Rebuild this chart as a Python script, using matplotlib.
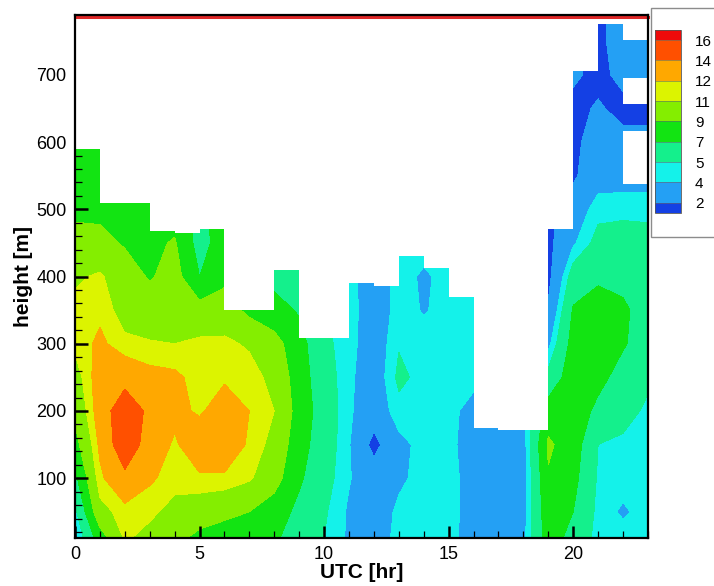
import matplotlib

matplotlib.use("Agg")
import matplotlib.pyplot as plt
import numpy as np
from matplotlib.colors import BoundaryNorm, ListedColormap
from matplotlib.patches import Rectangle
from matplotlib.cm import ScalarMappable
from matplotlib.ticker import MultipleLocator

plt.rcParams["font.family"] = ["Liberation Sans", "DejaVu Sans"]

# wind speed field: one list per hour (0..23), values at `heights`
hours = list(range(24))
heights = [11, 50, 100, 150, 200, 250, 300, 350, 400, 450, 500, 550, 600, 650, 700, 750, 790]
wind_speed = [
    [3.5, 4.6, 6.5, 8.3, 9.5, 10.3, 11.3, 11.3, 10.8, 9.8, 8.5, 8.0, 8.0, 8.0, 8.0, 8.0, 8.0],
    [8.0, 10.5, 11.7, 12.3, 12.8, 12.8, 12.3, 11.7, 11.2, 9.6, 8.5, 8.0, 8.0, 8.0, 8.0, 8.0, 8.0],
    [11.2, 11.5, 13.5, 15.5, 15.5, 13.2, 11.3, 10.4, 10.0, 8.8, 8.0, 8.0, 8.0, 8.0, 8.0, 8.0, 8.0],
    [10.5, 11.3, 12.2, 13.0, 13.5, 12.5, 11.1, 10.2, 8.8, 8.5, 8.0, 8.0, 8.0, 8.0, 8.0, 8.0, 8.0],
    [9.5, 10.5, 11.5, 11.8, 12.4, 12.3, 11.0, 10.2, 9.8, 9.2, 8.0, 8.0, 8.0, 8.0, 8.0, 8.0, 8.0],
    [8.5, 10.0, 11.8, 13.0, 11.8, 11.5, 11.3, 9.8, 7.0, 6.2, 6.5, 7.5, 8.0, 8.0, 8.0, 8.0, 8.0],
    [8.0, 9.5, 11.8, 13.0, 12.8, 11.8, 11.3, 10.0, 8.5, 8.0, 8.0, 8.0, 8.0, 8.0, 8.0, 8.0, 8.0],
    [8.0, 9.0, 11.2, 11.8, 12.0, 11.6, 10.8, 8.5, 7.5, 7.5, 7.5, 7.5, 7.5, 7.5, 7.5, 7.5, 7.5],
    [7.3, 8.0, 9.8, 10.5, 11.0, 10.5, 9.7, 7.8, 6.3, 6.0, 6.0, 6.0, 6.0, 6.0, 6.0, 6.0, 6.0],
    [6.0, 6.5, 7.3, 7.8, 8.2, 8.0, 7.8, 6.8, 6.0, 6.0, 6.0, 6.0, 6.0, 6.0, 6.0, 6.0, 6.0],
    [5.0, 5.2, 5.6, 5.9, 6.0, 5.7, 5.3, 5.0, 5.0, 5.0, 5.0, 5.0, 5.0, 5.0, 5.0, 5.0, 5.0],
    [3.8, 3.8, 4.1, 4.1, 4.2, 4.3, 4.5, 4.6, 4.5, 4.0, 4.0, 4.0, 4.0, 4.0, 4.0, 4.0, 4.0],
    [3.0, 3.0, 3.0, 1.4, 3.0, 3.0, 3.0, 3.0, 3.0, 3.0, 3.0, 3.0, 3.0, 3.0, 3.0, 3.0, 3.0],
    [4.5, 4.3, 3.7, 3.6, 4.6, 5.3, 4.9, 4.5, 4.5, 4.5, 4.5, 4.5, 4.5, 4.5, 4.5, 4.5, 4.5],
    [4.6, 4.6, 4.5, 4.4, 4.5, 4.6, 4.5, 3.9, 3.8, 4.5, 4.5, 4.5, 4.5, 4.5, 4.5, 4.5, 4.5],
    [4.3, 4.4, 4.3, 4.2, 4.3, 4.1, 4.5, 4.4, 4.4, 4.5, 4.5, 4.5, 4.5, 4.5, 4.5, 4.5, 4.5],
    [3.5, 3.5, 3.6, 3.6, 3.6, 4.3, 4.4, 4.3, 4.3, 4.3, 4.3, 4.3, 4.3, 4.3, 4.3, 4.3, 4.3],
    [3.2, 3.1, 3.0, 3.0, 3.0, 3.0, 3.0, 3.0, 3.0, 3.0, 3.0, 3.0, 3.0, 3.0, 3.0, 3.0, 3.0],
    [3.6, 3.4, 3.2, 3.4, 3.6, 3.5, 3.0, 3.0, 3.0, 3.0, 3.0, 3.0, 3.0, 3.0, 3.0, 3.0, 3.0],
    [8.0, 8.3, 8.8, 9.3, 8.0, 5.5, 3.6, 2.2, 1.5, 1.5, 1.5, 1.5, 1.5, 1.5, 1.5, 1.5, 1.5],
    [6.3, 7.0, 7.6, 8.0, 8.2, 8.2, 7.8, 7.2, 5.8, 3.8, 3.0, 1.7, 1.5, 1.5, 2.3, 2.5, 2.5],
    [4.5, 4.6, 4.8, 5.0, 6.5, 7.6, 8.3, 8.3, 6.5, 5.5, 4.6, 3.3, 3.0, 2.2, 1.5, 1.5, 1.5],
    [4.5, 3.8, 4.5, 4.8, 5.4, 6.2, 7.2, 7.3, 6.5, 5.8, 4.6, 3.4, 2.5, 1.5, 2.5, 3.0, 3.0],
    [4.5, 4.5, 4.6, 4.7, 4.8, 5.2, 6.0, 6.2, 6.2, 5.6, 4.6, 3.4, 2.5, 1.5, 3.0, 3.0, 3.0],
]

# highest valid range gate for each hourly column (start hour -> top height)
col_start = list(range(23))
col_top = [590, 510, 510, 468, 465, 470, 350, 350, 410, 308, 308, 390, 386,
           430, 413, 370, 174, 172, 172, 470, 705, 775, 752]

# missing data inside the last column
gap_hour = [22, 22]
gap_lo = [537, 656]
gap_hi = [616, 696]

legend_ticks = [2, 4, 5, 7, 9, 11, 12, 14, 16]
colors = ["#1440e4", "#24a0f4", "#14f2ea", "#14f08c", "#12e412",
          "#84ee00", "#dcf400", "#ffa800", "#ff5000", "#ee0a0a"]

fig = plt.figure(figsize=(7.14, 5.86), dpi=100)
ax = fig.add_axes([0.105, 0.0819, 0.8025, 0.8925])

z = np.array(wind_speed).T
ax.contourf(hours, heights, z, levels=[0] + legend_ticks + [20], colors=colors)

# blank out everything above the data ceiling
edges = col_start + [23]
tops = col_top + [col_top[-1]]
ax.fill_between(edges, tops, 800, step="post", color="white", linewidth=0, zorder=2)
for h, lo, hi in zip(gap_hour, gap_lo, gap_hi):
    ax.fill_between([h, h + 1], lo, hi, color="white", linewidth=0, zorder=2)

ax.set_xlim(0, 23)
ax.set_ylim(11, 789)
ax.set_yticks([100, 200, 300, 400, 500, 600, 700])
ax.xaxis.set_major_locator(MultipleLocator(5))
ax.xaxis.set_minor_locator(MultipleLocator(1))
ax.yaxis.set_minor_locator(MultipleLocator(20))
ax.tick_params(which="major", direction="in", length=9, width=1.8, labelsize=13,
               top=False, right=False, pad=6)
ax.tick_params(which="minor", direction="in", length=5, width=0.9, top=False, right=False)
for side in ax.spines.values():
    side.set_linewidth(1.6)
    side.set_zorder(5)
ax.plot([0, 1], [0.9955, 0.9955], transform=ax.transAxes, color="#e02828",
        lw=2.2, zorder=4, clip_on=False)

ax.set_xlabel("UTC [hr]", fontsize=15, fontweight="bold", labelpad=0)
ax.set_ylabel("height [m]", fontsize=15, fontweight="bold", labelpad=2)

# legend box with the colour scale (end swatches are half height)
fig.add_artist(Rectangle((651 / 714, 1 - 237 / 586), 0.2, 229 / 586,
                         transform=fig.transFigure, facecolor="white",
                         edgecolor="#8c8c8c", linewidth=1.0, zorder=0))
cax = fig.add_axes([655 / 714, 1 - 213 / 586, 26 / 714, 183 / 586])
cmap = ListedColormap(colors[1:-1])
cmap.set_under(colors[0])
cmap.set_over(colors[-1])
sm = ScalarMappable(norm=BoundaryNorm(legend_ticks, cmap.N), cmap=cmap)
cb = fig.colorbar(sm, cax=cax, ticks=legend_ticks, spacing="uniform", drawedges=True,
                  extend="both", extendrect=True, extendfrac=0.0625)
cb.outline.set_linewidth(0.6)
cb.outline.set_edgecolor("#555555")
cb.dividers.set_linewidth(0.4)
cb.dividers.set_color("#666666")
cb.ax.tick_params(length=0, labelsize=11, pad=10)

fig.savefig("out.png", dpi=100)
